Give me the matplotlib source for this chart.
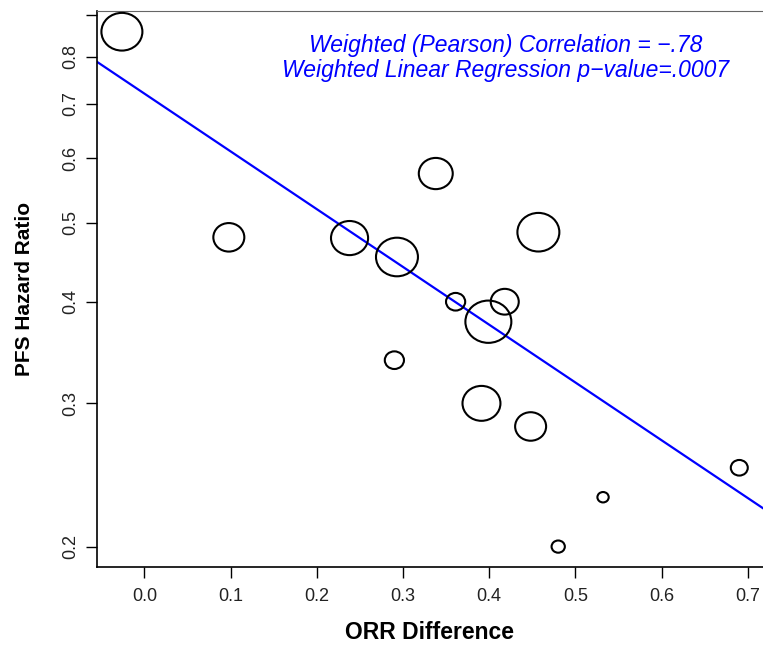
import numpy as np
import matplotlib
matplotlib.use("Agg")
import matplotlib.pyplot as plt
from matplotlib.path import Path
from matplotlib.markers import MarkerStyle
from matplotlib.transforms import Affine2D
from matplotlib.ticker import FixedLocator, NullLocator

plt.rcParams["font.family"] = ["Liberation Sans", "DejaVu Sans"]

# trial-level data
orr_diff = [-0.026, 0.098, 0.338, 0.238, 0.293, 0.457, 0.361, 0.418,
            0.399, 0.290, 0.391, 0.448, 0.690, 0.532, 0.480]
pfs_hr = [0.859, 0.480, 0.575, 0.479, 0.454, 0.487, 0.400, 0.400,
          0.378, 0.339, 0.300, 0.281, 0.250, 0.230, 0.200]
weights = [105, 60, 72, 86, 110, 110, 23, 49, 132, 23, 90, 60, 18, 8, 11]

# weighted fit on log scale: log(HR) = a + b * ORR
fit_intercept = -0.327
fit_slope = -1.636

y_ticks = [0.2, 0.3, 0.4, 0.5, 0.6, 0.7, 0.8, 0.9]
y_labels = ["0.2", "0.3", "0.4", "0.5", "0.6", "0.7", "0.8", ""]
x_ticks = [0.0, 0.1, 0.2, 0.3, 0.4, 0.5, 0.6, 0.7]

fig = plt.figure(figsize=(7.63, 6.45), dpi=100)
ax = fig.add_axes([0.127, 0.121, 0.873, 0.862])

# slightly flattened circles, as in the original image
ell = Path.unit_circle().transformed(Affine2D().scale(1.0, 0.92))
marker = MarkerStyle(ell)

diam_pt = 4.0 * np.sqrt(np.array(weights)) * 0.72
ax.scatter(orr_diff, pfs_hr, s=diam_pt**2, marker=marker,
           facecolors="none", edgecolors="black", linewidths=1.5, zorder=3)

xlim = (-0.055, 0.7175)
xs = np.array(xlim)
ax.plot(xs, np.exp(fit_intercept + fit_slope * xs), color="#0000ff", lw=1.6)

ax.set_yscale("log")
ax.set_xlim(*xlim)
ax.set_ylim(0.1888, 0.911)

ax.yaxis.set_major_locator(FixedLocator(y_ticks))
ax.yaxis.set_minor_locator(NullLocator())
ax.set_yticklabels(y_labels, rotation=90, va="center")
ax.set_xticks(x_ticks)
ax.set_xticklabels([f"{v:.1f}" for v in x_ticks])
ax.tick_params(axis="both", length=8, width=1, labelsize=13,
               labelcolor="#222222")
ax.tick_params(axis="y", pad=5)
ax.tick_params(axis="x", pad=7)

ax.spines["right"].set_visible(False)
ax.spines["top"].set_color("#666666")
for s in ["left", "bottom"]:
    ax.spines[s].set_linewidth(1.2)

ax.set_xlabel("ORR Difference", fontsize=16.5, fontweight="bold", labelpad=12)
ax.set_ylabel("PFS Hazard Ratio", fontsize=15, fontweight="bold", labelpad=20)

ax.text(0.614, 0.915, "Weighted (Pearson) Correlation = \u2212.78\n"
        "Weighted Linear Regression p\u2212value=.0007",
        transform=ax.transAxes, ha="center", va="center", color="#0000ff",
        style="italic", fontsize=16.5, linespacing=1.1)

fig.savefig("out.png", dpi=100)
